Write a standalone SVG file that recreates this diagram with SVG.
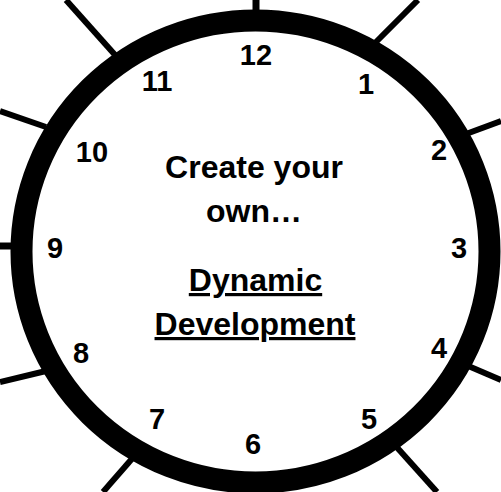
<svg xmlns="http://www.w3.org/2000/svg" width="501" height="492" viewBox="0 0 501 492">
  <style>
    .spoke { stroke: #000; stroke-width: 6; stroke-linecap: butt; fill: none; }
    .num { font-family: "Liberation Sans", Arial, sans-serif; font-weight: bold; font-size: 29px; fill: #000; text-anchor: middle; }
    .title { font-family: "Liberation Sans", Arial, sans-serif; font-weight: bold; font-size: 32px; fill: #000; text-anchor: middle; }
  </style>
  <rect width="501" height="492" fill="#fff"/>
  <g id="connectors">
    <line class="spoke" x1="256" y1="0" x2="256" y2="14" style="stroke-width:7"/>
    <line class="spoke" x1="66" y1="0" x2="116" y2="56"/>
    <line class="spoke" x1="418" y1="0" x2="374" y2="44"/>
    <line class="spoke" x1="0" y1="111" x2="46" y2="127"/>
    <line class="spoke" x1="501" y1="121" x2="466" y2="134"/>
    <line class="spoke" x1="0" y1="246" x2="16" y2="246" style="stroke-width:7"/>
    <line class="spoke" x1="0" y1="382" x2="46" y2="371"/>
    <line class="spoke" x1="501" y1="380" x2="466" y2="365"/>
    <line class="spoke" x1="103" y1="492" x2="137" y2="453"/>
    <line class="spoke" x1="437" y1="492" x2="393" y2="443"/>
  </g>
  <g id="clock">
    <ellipse cx="255.5" cy="251.5" rx="234" ry="231" fill="#fff" stroke="#000" stroke-width="22"/>
  </g>
  <g id="numbers">
    <text class="num" x="256" y="65">12</text>
    <text class="num" x="157" y="91">11</text>
    <text class="num" x="366" y="94">1</text>
    <text class="num" x="92" y="162">10</text>
    <text class="num" x="439" y="160">2</text>
    <text class="num" x="55" y="258">9</text>
    <text class="num" x="459" y="258">3</text>
    <text class="num" x="81" y="363">8</text>
    <text class="num" x="439" y="358">4</text>
    <text class="num" x="157" y="429">7</text>
    <text class="num" x="369" y="429">5</text>
    <text class="num" x="253" y="454">6</text>
  </g>
  <g id="title">
    <text class="title" x="254" y="178">Create your</text>
    <text class="title" x="254" y="222">own…</text>
    <text class="title" x="255.5" y="291" text-decoration="underline">Dynamic</text>
    <text class="title" x="255" y="335" text-decoration="underline">Development</text>
  </g>
</svg>
